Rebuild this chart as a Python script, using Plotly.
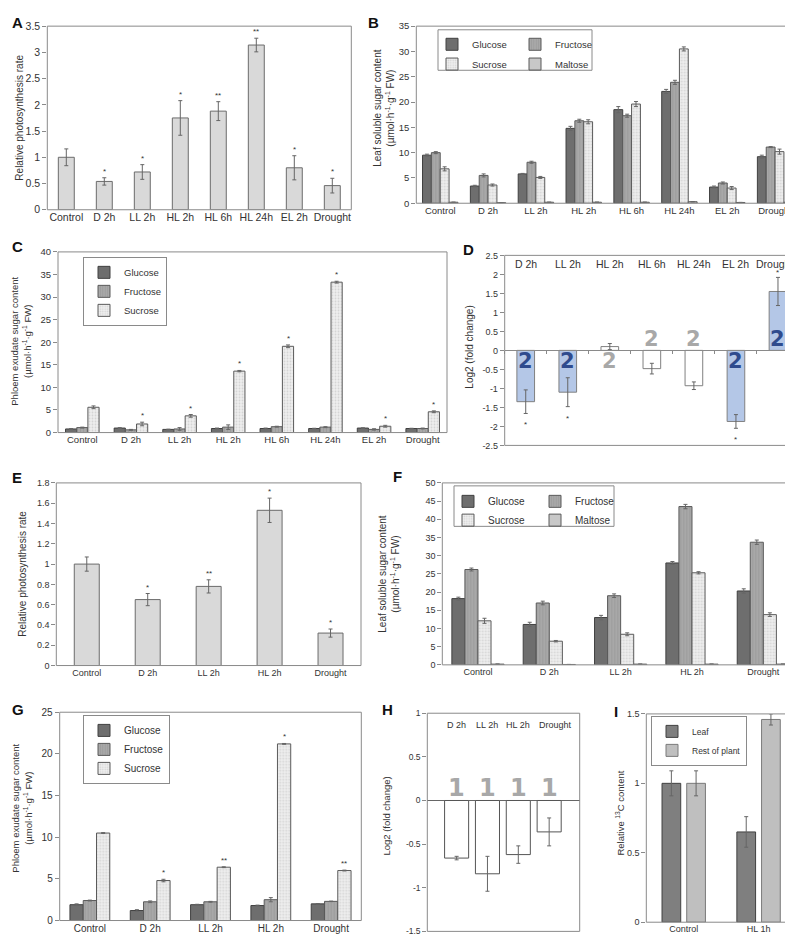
import plotly.graph_objects as go

W, H = 793, 936
FONT = "Liberation Sans, Arial, sans-serif"
TXT = "#333333"
BORDER = "#8a8a8a"
ERRC = "#666666"

# ---------------- data ----------------
cats8 = ["Control", "D 2h", "LL 2h", "HL 2h", "HL 6h", "HL 24h", "EL 2h", "Drought"]
cats5 = ["Control", "D 2h", "LL 2h", "HL 2h", "Drought"]

# A: relative photosynthesis rate
a_rate = [1.00, 0.54, 0.72, 1.75, 1.88, 3.14, 0.80, 0.46]
a_err = [0.16, 0.07, 0.14, 0.33, 0.18, 0.13, 0.23, 0.14]
a_sig = ["", "*", "*", "*", "**", "**", "*", "*"]

# B: leaf soluble sugars
b_glucose = [9.5, 3.4, 5.8, 14.8, 18.5, 22.1, 3.2, 9.2]
b_glucose_err = [0.2, 0.15, 0.1, 0.4, 0.6, 0.4, 0.2, 0.3]
b_fructose = [10.0, 5.5, 8.1, 16.3, 17.3, 23.9, 4.0, 11.1]
b_fructose_err = [0.2, 0.3, 0.2, 0.3, 0.3, 0.4, 0.2, 0.1]
b_sucrose = [6.8, 3.6, 5.1, 16.1, 19.6, 30.5, 3.0, 10.2]
b_sucrose_err = [0.4, 0.2, 0.2, 0.4, 0.5, 0.4, 0.3, 0.5]
b_maltose = [0.2, 0.1, 0.2, 0.2, 0.2, 0.3, 0.15, 0.2]
b_maltose_err = [0.03, 0.02, 0.03, 0.03, 0.03, 0.03, 0.02, 0.03]

# C: phloem exudate sugars
c_glucose = [0.8, 1.0, 0.7, 0.9, 0.9, 0.9, 1.0, 0.9]
c_glucose_err = [0.1, 0.1, 0.05, 0.1, 0.1, 0.05, 0.05, 0.05]
c_fructose = [1.1, 0.6, 0.8, 1.2, 1.3, 1.2, 0.7, 0.9]
c_fructose_err = [0.1, 0.1, 0.3, 0.5, 0.1, 0.1, 0.15, 0.1]
c_sucrose = [5.6, 1.9, 3.7, 13.6, 19.1, 33.3, 1.4, 4.6]
c_sucrose_err = [0.3, 0.4, 0.3, 0.15, 0.3, 0.2, 0.2, 0.2]
c_sig = ["", "*", "*", "*", "*", "*", "*", "*"]

# D: log2 fold change
d_cats = ["D 2h", "LL 2h", "HL 2h", "HL 6h", "HL 24h", "EL 2h", "Drought"]
d_log2 = [-1.35, -1.10, 0.10, -0.48, -0.93, -1.87, 1.55]
d_err = [0.31, 0.38, 0.08, 0.14, 0.10, 0.18, 0.37]
d_sig = ["*", "*", "", "", "", "*", "*"]
d_num = ["2", "2", "2", "2", "2", "2", "2"]
d_ticks = [-2.5, -2, -1.5, -1, -0.5, 0, 0.5, 1, 1.5, 2, 2.5]

# E: relative photosynthesis rate
e_rate = [1.00, 0.65, 0.78, 1.53, 0.32]
e_err = [0.07, 0.06, 0.065, 0.12, 0.04]
e_sig = ["", "*", "**", "*", "*"]

# F: leaf soluble sugars
f_glucose = [18.2, 11.1, 13.0, 28.0, 20.3]
f_glucose_err = [0.4, 0.6, 0.6, 0.4, 0.6]
f_fructose = [26.2, 17.0, 19.0, 43.5, 33.7]
f_fructose_err = [0.4, 0.5, 0.5, 0.6, 0.6]
f_sucrose = [12.1, 6.5, 8.4, 25.3, 13.8]
f_sucrose_err = [0.7, 0.2, 0.4, 0.3, 0.5]
f_maltose = [0.2, 0.1, 0.2, 0.2, 0.2]
f_maltose_err = [0.02, 0.02, 0.02, 0.02, 0.02]

# G: phloem exudate sugars
g_glucose = [1.9, 1.2, 1.9, 1.8, 2.0]
g_glucose_err = [0.1, 0.1, 0.05, 0.05, 0.03]
g_fructose = [2.4, 2.25, 2.25, 2.5, 2.3]
g_fructose_err = [0.05, 0.1, 0.05, 0.25, 0.03]
g_sucrose = [10.5, 4.8, 6.4, 21.2, 6.0]
g_sucrose_err = [0.05, 0.15, 0.05, 0.05, 0.05]
g_sig = ["", "*", "**", "*", "**"]

# H: log2 fold change
h_cats = ["D 2h", "LL 2h", "HL 2h", "Drought"]
h_log2 = [-0.66, -0.84, -0.62, -0.36]
h_err = [0.02, 0.20, 0.10, 0.16]
h_num = ["1", "1", "1", "1"]
h_ticks = [-1.5, -1, -0.5, 0, 0.5, 1]

# I: relative 13C content
i_cats = ["Control", "HL 1h"]
i_leaf = [1.00, 0.65]
i_leaf_err = [0.09, 0.11]
i_rest = [1.00, 1.46]
i_rest_err = [0.09, 0.04]

# ---------------- styles ----------------
C_PLAIN = "#d9d9d9"
C_GLU = "#6e6e6e"
C_FRU = "#a8a8a8"
C_SUC = "#eeeeee"
C_MAL = "#c8c8c8"
C_BLUE = "#b4c7e7"
C_NUM_BLUE = "#2f4b8e"
C_NUM_GRAY = "#a8a8a8"
PAT_FRU = dict(shape="|", fgcolor="#8e8e8e", size=3, solidity=0.3)
PAT_SUC = dict(shape=".", fgcolor="#b8b8b8", size=3, solidity=0.3)

fig = go.Figure()
layout = {}
annotations = []
shapes = []


def xr(n):
    return "x" if n == 1 else f"x{n}"


def yr(n):
    return "y" if n == 1 else f"y{n}"


def add_axes(n, xpx, ypx, cats, yrange, fs, dtick=None, tickvals=None, xrange=None, show_x=True):
    xk = "xaxis" if n == 1 else f"xaxis{n}"
    yk = "yaxis" if n == 1 else f"yaxis{n}"
    layout[xk] = dict(domain=[xpx[0] / W, xpx[1] / W], anchor=yr(n), type="category",
                      categoryorder="array", categoryarray=cats,
                      range=xrange if xrange else [-0.5, len(cats) - 0.5],
                      showgrid=False, zeroline=False, showline=False, ticks="",
                      showticklabels=show_x, tickfont=dict(size=fs, color=TXT), fixedrange=True)
    ya = dict(domain=[1 - ypx[1] / H, 1 - ypx[0] / H], anchor=xr(n), range=yrange,
              showgrid=False, zeroline=False, showline=False, ticks="outside", ticklen=4,
              tickcolor=BORDER, tickfont=dict(size=fs, color=TXT), fixedrange=True)
    if tickvals is not None:
        ya.update(tickmode="array", tickvals=tickvals, ticktext=[f"{v:g}" for v in tickvals])
    else:
        ya.update(tick0=yrange[0], dtick=dtick)
    layout[yk] = ya
    shapes.append(dict(type="rect", xref=f"{xr(n)} domain", yref=f"{yr(n)} domain",
                       x0=0, x1=1, y0=0, y1=1, line=dict(color=BORDER, width=1), layer="above"))


def add_bars(n, cats, vals, errs, width, offset, color, lcolor, name=None, legend=None, pattern=None):
    kw = {}
    if legend:
        kw["legend"] = legend
    marker = dict(color=color, line=dict(color=lcolor, width=1))
    if pattern:
        marker["pattern"] = pattern
    fig.add_trace(go.Bar(x=cats, y=vals, width=width, offset=offset, xaxis=xr(n), yaxis=yr(n),
                         marker=marker,
                         error_y=dict(type="data", array=errs, visible=True, color=ERRC,
                                      thickness=1, width=2),
                         name=name, showlegend=name is not None, hoverinfo="skip", **kw))


def add_stars(n, vals, errs, sigs, center=0.0, fs=8, up_shift=0):
    for i, (v, e, s) in enumerate(zip(vals, errs, sigs)):
        if not s:
            continue
        if v >= 0:
            annotations.append(dict(x=i + center, y=v + e, xref=xr(n), yref=yr(n), text=s,
                                    showarrow=False, yanchor="bottom", yshift=up_shift,
                                    font=dict(size=fs, color=TXT)))
        else:
            annotations.append(dict(x=i + center, y=v - e, xref=xr(n), yref=yr(n), text=s,
                                    showarrow=False, yanchor="top", yshift=-5,
                                    font=dict(size=fs, color=TXT)))


def letter(txt, xpx, ypx):
    annotations.append(dict(x=xpx / W, y=1 - ypx / H, xref="paper", yref="paper", text=f"<b>{txt}</b>",
                            showarrow=False, xanchor="left", yanchor="middle",
                            font=dict(size=15, color="#111111")))


def ytitle(txt, xpx, ypx, fs=10):
    annotations.append(dict(x=xpx / W, y=1 - ypx / H, xref="paper", yref="paper", text=txt,
                            showarrow=False, xanchor="center", yanchor="middle", textangle=-90,
                            font=dict(size=fs, color=TXT)))


def legend_cfg(xpx, ypx, fs, border=True, orientation="v", entrywidth=None):
    d = dict(x=xpx / W, y=1 - ypx / H, xanchor="left", yanchor="top", xref="paper", yref="paper",
             orientation=orientation, font=dict(size=fs, color=TXT),
             bgcolor="rgba(255,255,255,0)",
             bordercolor=BORDER if border else "rgba(0,0,0,0)", borderwidth=1 if border else 0,
             itemwidth=30, tracegroupgap=0, traceorder="normal", itemclick=False,
             itemdoubleclick=False)
    if entrywidth:
        d["entrywidth"] = entrywidth
    return d


UNIT = "(µmol·h<sup>-1</sup>·g<sup>-1</sup> FW)"

# ---------------- A ----------------
add_axes(1, (39.3, 343.3), (12.3, 198.3), cats8, [0, 3.5], 10.5, dtick=0.5)
add_bars(1, cats8, a_rate, a_err, 0.42, -0.21, C_PLAIN, "#6b6b6b")
add_stars(1, a_rate, a_err, a_sig)
letter("A", 2, 9)
ytitle("Relative photosynthesis rate", 12, 105, 10)

# ---------------- B ----------------
add_axes(2, (408.3, 791), (12.3, 191.7), cats8, [0, 35], 9.5, dtick=5)
wb = 0.185
add_bars(2, cats8, b_glucose, b_glucose_err, wb, -2 * wb, C_GLU, "#404040", "Glucose", "legend")
add_bars(2, cats8, b_fructose, b_fructose_err, wb, -wb, C_FRU, "#5a5a5a", "Fructose", "legend", PAT_FRU)
add_bars(2, cats8, b_sucrose, b_sucrose_err, wb, 0, C_SUC, "#5a5a5a", "Sucrose", "legend2", PAT_SUC)
add_bars(2, cats8, b_maltose, b_maltose_err, wb, wb, C_MAL, "#5a5a5a", "Maltose", "legend2")
letter("B", 358, 9)
ytitle("Leaf soluble sugar content<br>" + UNIT, 376, 95, 10)
layout["legend"] = legend_cfg(424, 16, 9.5, border=False, orientation="h", entrywidth=38)
layout["legend2"] = legend_cfg(424, 36, 9.5, border=False, orientation="h", entrywidth=38)
shapes.append(dict(type="rect", xref="paper", yref="paper", x0=430 / W, x1=584 / W,
                   y0=1 - 57 / H, y1=1 - 16 / H, line=dict(color=BORDER, width=1)))

# ---------------- C ----------------
add_axes(3, (50, 439), (241, 424), cats8, [0, 40], 9.5, dtick=5)
wc = 0.23
add_bars(3, cats8, c_glucose, c_glucose_err, wc, -1.5 * wc, C_GLU, "#404040", "Glucose", "legend3")
add_bars(3, cats8, c_fructose, c_fructose_err, wc, -0.5 * wc, C_FRU, "#5a5a5a", "Fructose", "legend3", PAT_FRU)
add_bars(3, cats8, c_sucrose, c_sucrose_err, wc, 0.5 * wc, C_SUC, "#5a5a5a", "Sucrose", "legend3", PAT_SUC)
add_stars(3, c_sucrose, c_sucrose_err, c_sig, center=wc)
letter("C", 2, 236)
ytitle("Phloem exudate sugar content<br>" + UNIT, 13, 332, 9.5)
layout["legend3"] = legend_cfg(75, 246, 9.5)

# ---------------- D ----------------
d_range = [-2.5, 2.5]
d_ypx = (244.5, 437)
add_axes(4, (496.7, 791), d_ypx, d_cats, d_range, 9, tickvals=d_ticks, show_x=False)
y0f, y1f = 1 - d_ypx[1] / H, 1 - d_ypx[0] / H
zero_frac = y0f + (0 - d_range[0]) / (d_range[1] - d_range[0]) * (y1f - y0f)
layout["xaxis4"].update(anchor="free", position=zero_frac, showline=True, linecolor=BORDER,
                        ticks="outside", tickson="boundaries", ticklen=3, tickcolor=BORDER)
d_fill = [C_BLUE if s else "#ffffff" for s in d_sig]
add_bars(4, d_cats, d_log2, d_err, 0.42, -0.21, d_fill, "#808080")
add_stars(4, d_log2, d_err, d_sig, up_shift=-2)
for i, (c, v, s, t) in enumerate(zip(d_cats, d_log2, d_sig, d_num)):
    up = (v >= 0) if s else (v < 0)
    annotations.append(dict(x=i, y=0, xref="x4", yref="y4", text=f"<b>{t}</b>", showarrow=False,
                            yanchor="middle", yshift=11 if up else -11,
                            font=dict(size=21, family="DejaVu Sans", color=C_NUM_BLUE if s else C_NUM_GRAY)))
    annotations.append(dict(x=i, y=1, xref="x4", yref="y4 domain", text=c, showarrow=False,
                            yanchor="top", yshift=-1, xshift=-3 if i == len(d_cats) - 1 else 0,
                            font=dict(size=10.5, color=TXT)))
letter("D", 453, 239)
ytitle("Log2 (fold change)", 462, 338, 10)

# ---------------- E ----------------
add_axes(5, (48.3, 353), (475, 660), cats5, [0, 1.8], 9, dtick=0.2)
add_bars(5, cats5, e_rate, e_err, 0.41, -0.205, C_PLAIN, "#6b6b6b")
add_stars(5, e_rate, e_err, e_sig)
letter("E", 2, 470)
ytitle("Relative photosynthesis rate", 15, 567, 10)

# ---------------- F ----------------
add_axes(6, (434.3, 791), (475, 659.3), cats5, [0, 50], 9, dtick=5)
wf = 0.183
add_bars(6, cats5, f_glucose, f_glucose_err, wf, -2 * wf, C_GLU, "#404040", "Glucose", "legend4")
add_bars(6, cats5, f_fructose, f_fructose_err, wf, -wf, C_FRU, "#5a5a5a", "Fructose", "legend4", PAT_FRU)
add_bars(6, cats5, f_sucrose, f_sucrose_err, wf, 0, C_SUC, "#5a5a5a", "Sucrose", "legend5", PAT_SUC)
add_bars(6, cats5, f_maltose, f_maltose_err, wf, wf, C_MAL, "#5a5a5a", "Maltose", "legend5")
letter("F", 383, 468)
ytitle("Leaf soluble sugar content<br>" + UNIT, 381, 567, 10)
layout["legend4"] = legend_cfg(440, 479, 10, border=False, orientation="h", entrywidth=42)
layout["legend5"] = legend_cfg(440, 498, 10, border=False, orientation="h", entrywidth=42)
shapes.append(dict(type="rect", xref="paper", yref="paper", x0=446 / W, x1=606 / W,
                   y0=1 - 519 / H, y1=1 - 478 / H, line=dict(color=BORDER, width=1)))

# ---------------- G ----------------
add_axes(7, (51.7, 353.3), (707.3, 918.3), cats5, [0, 25], 10, dtick=5)
wg = 0.22
add_bars(7, cats5, g_glucose, g_glucose_err, wg, -1.5 * wg, C_GLU, "#404040", "Glucose", "legend6")
add_bars(7, cats5, g_fructose, g_fructose_err, wg, -0.5 * wg, C_FRU, "#5a5a5a", "Fructose", "legend6", PAT_FRU)
add_bars(7, cats5, g_sucrose, g_sucrose_err, wg, 0.5 * wg, C_SUC, "#5a5a5a", "Sucrose", "legend6", PAT_SUC)
add_stars(7, g_sucrose, g_sucrose_err, g_sig, center=wg)
letter("G", 2, 705)
ytitle("Phloem exudate sugar content<br>" + UNIT, 14, 805, 9.5)
layout["legend6"] = legend_cfg(75, 710, 10)

# ---------------- H ----------------
add_axes(8, (419.3, 571.7), (708.3, 929.3), h_cats, [-1.5, 1], 8.5, tickvals=h_ticks,
         xrange=[-0.95, 3.99], show_x=False)
layout["yaxis8"].update(zeroline=True, zerolinecolor="#666666", zerolinewidth=1)
add_bars(8, h_cats, h_log2, h_err, 0.78, -0.39, "#ffffff", "#555555")
for i, (c, v, t) in enumerate(zip(h_cats, h_log2, h_num)):
    annotations.append(dict(x=i, y=0, xref="x8", yref="y8", text=f"<b>{t}</b>", showarrow=False,
                            yanchor="middle", yshift=12,
                            font=dict(size=24, family="DejaVu Sans", color=C_NUM_GRAY)))
    annotations.append(dict(x=i, y=1, xref="x8", yref="y8 domain", text=c, showarrow=False,
                            yanchor="top", yshift=-5, xshift=6 if i == len(h_cats) - 1 else 0,
                            font=dict(size=9, color=TXT)))
letter("H", 372, 705)
ytitle("Log2 (fold change)", 379, 813, 9.5)

# ---------------- I ----------------
add_axes(9, (638.3, 788), (709, 920), i_cats, [0, 1.5], 9, dtick=0.5)
add_bars(9, i_cats, i_leaf, i_leaf_err, 0.25, -0.29, "#7f7f7f", "#404040", "Leaf", "legend7")
add_bars(9, i_cats, i_rest, i_rest_err, 0.25, 0.04, "#bfbfbf", "#7a7a7a", "Rest of plant", "legend7")
letter("I", 604, 707)
ytitle("Relative <sup>13</sup>C content", 612, 810, 9.5)
layout["legend7"] = legend_cfg(643, 711, 8.5)

layout.update(width=W, height=H, margin=dict(l=0, r=0, t=0, b=0), paper_bgcolor="white",
              plot_bgcolor="white", barmode="overlay", font=dict(family=FONT, color=TXT, size=10),
              annotations=annotations, shapes=shapes, showlegend=True)
fig.update_layout(**layout)
fig.write_html("out.html")
